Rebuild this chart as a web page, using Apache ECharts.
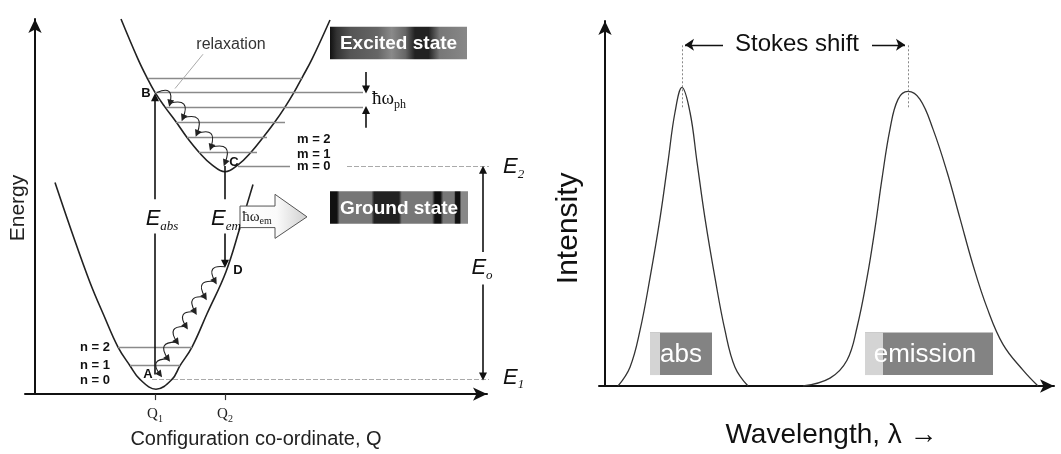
<!DOCTYPE html>
<html><head><meta charset="utf-8">
<script src="https://cdn.jsdelivr.net/npm/echarts@6/dist/echarts.min.js"></script>
<style>html,body{margin:0;padding:0;background:#fff}#c{width:1061px;height:454px}</style>
</head><body><div id="c"></div>
<script>
// ---------- LEFT PANEL: configuration-coordinate diagram (arbitrary units) ----------
const groundQ = [20,37,55,69,83,95,105,121,137,145,157,172,191,205,218];
const groundE = [216,165,114,80,48,29,15,5,15,29,48,82,125,170,214];
const excitedQ = [86,103,112,120,130,141,152,164,177,190,203,216,228,240,250,259,267,277,295];
const excitedE = [383,342,323,308,293,278,262,247,234,227,234,247,262,278,293,308,323,342,382];
// vibrational levels: [Q start, Q end, energy]
const excitedLevels = [[113,267,323],[120,328,308],[131,328,293],[141,250,278],[152,232,262],[164,222,247],[203,255,233]];
const groundLevels = [[83,157,48],[95,145,29]];
const levelExtensions = [[312,455,233],[117,455,15]];
// transitions with arrow heads [Q1,E1,Q2,E2]
const transitionArrows = [[120,199,120,303],[190,164,190,133],[448,145,448,229],[448,112,448,18],[331,329,331,311],[331,272,331,290]];
const transitionStems = [[120,20,120,164],[190,233,190,199]];
// relaxation hops
const excitedHopQ = [122,135,148,162,176,190];
const excitedHopE = [308,297,282,266,252,236];
const groundHopQ = [190,180,170,160,151,142,133,125];
const groundHopE = [130,115,99,84,69,53,36,20];
const relaxLeader = [[168,347,140,312]];
const qTicks = [120,190];
const qTickLabels = ['1','2'];
const leftText = [
  [-17,190,'Energy','ylabSmall'],
  [196,357,'relaxation','note'],
  [111,307,'B','pt'],[199,237,'C','pt'],[203,126,'D','pt'],[113,20,'A','pt'],
  [262,260,'m = 2','lvl'],[262,245,'m = 1','lvl'],[262,232,'m = 0','lvl'],
  [45,48,'n = 2','lvl'],[45,29,'n = 1','lvl'],[45,14,'n = 0','lvl'],
  [127,179,'{e|E}{s|abs}','E'],[191,179,'{e|E}{s|em}','E'],[447,129,'{e|E}{s|o}','E'],
  [468,232,'{e|E}{s|2}','Eleft'],[468,17,'{e|E}{s|1}','Eleft'],
  [337,301,'{h|ħω}{s|ph}','hbar'],
  [222,181,'{h|ħω}{s|em}','hbarSmall']
];
const stateBoxes = [[295,375,432,342],[295,207,433,174]];
const stateLabels = ['Excited state','Ground state'];
const emArrowShape = [[205,192],[240,192],[240,204],[272,181],[240,159],[240,170],[205,170]];

// ---------- RIGHT PANEL: spectra ----------
const absWl = [13,25,35,45,55,63,70,77,85,92,100,110,120,130,143];
const absI  = [0,19,56,109,169,226,276,301,276,226,169,109,56,19,0];
const emWl  = [198,225,242,252,262,270,277,285,293,303,315,328,342,355,368,382,398,418,433];
const emI   = [0,8,26,59,109,159,209,259,289,297,289,259,216,169,122,79,42,16,0];
const stokesMarks = [[77,281,77,345],[303,281,303,345]];
const stokesArrows = [[118,344,80,344],[267,344,300,344]];
const rightText = [[192,344,'Stokes shift','stokes'],[-36,159,'Intensity','ylab']];
const bandBoxes = [[45,54,107,11],[260,54,388,11]];
const bandStripeEnd = [55,278];
const bandLabels = ['abs','emission'];
const bandLabelQ = [76,320];

// ---------- helpers ----------
const pairs = (xs, ys) => xs.map((x, i) => [x, ys[i]]);
const levelData = rows => rows.map(r => ({coords: [[r[0], r[2]], [r[1], r[2]]]}));
const segData = rows => rows.map(r => ({coords: [[r[0], r[1]], [r[2], r[3]]]}));
const hopData = (qs, es, c) => qs.slice(1).map((q, i) => ({coords: [[qs[i], es[i]], [q, es[i + 1]]], lineStyle: {curveness: c}}));
function linesSeries(g, data, style, extra) {
  return Object.assign({type: 'lines', coordinateSystem: 'cartesian2d', xAxisIndex: g, yAxisIndex: g,
    data: data, symbol: 'none', silent: true, z: 3,
    lineStyle: Object.assign({opacity: 1, curveness: 0}, style)}, extra || {});
}
const SANS = '"Liberation Sans", Arial, sans-serif';
const SERIF = '"Liberation Serif", "Times New Roman", serif';
const richE = {
  e: {fontFamily: SANS, fontStyle: 'italic', fontSize: 22, lineHeight: 28, fill: '#111', color: '#111'},
  s: {fontFamily: SERIF, fontStyle: 'italic', fontSize: 13, lineHeight: 13, verticalAlign: 'bottom', fill: '#111', color: '#111'}
};
const richH = {
  h: {fontFamily: SERIF, fontSize: 19, lineHeight: 24, fill: '#111', color: '#111'},
  s: {fontFamily: SERIF, fontSize: 12, lineHeight: 12, verticalAlign: 'bottom', fill: '#111', color: '#111'}
};
const richHs = {
  h: {fontFamily: SERIF, fontSize: 15, lineHeight: 20, fill: '#222', color: '#222'},
  s: {fontFamily: SERIF, fontSize: 10, lineHeight: 10, verticalAlign: 'bottom', fill: '#222', color: '#222'}
};
const TEXT_STYLES = {
  note: {style: {font: '16px ' + SANS, fill: '#333', align: 'center', verticalAlign: 'middle'}},
  pt: {style: {font: 'bold 13px ' + SANS, fill: '#111', align: 'center', verticalAlign: 'middle'}},
  lvl: {style: {font: 'bold 13px ' + SANS, fill: '#111', align: 'left', verticalAlign: 'middle'}},
  E: {style: {align: 'center', verticalAlign: 'middle', rich: richE, fill: '#111'}},
  Eleft: {style: {align: 'left', verticalAlign: 'middle', rich: richE, fill: '#111'}},
  hbar: {style: {align: 'left', verticalAlign: 'middle', rich: richH, fill: '#111'}},
  hbarSmall: {style: {align: 'center', verticalAlign: 'middle', rich: richHs, fill: '#222'}},
  stokes: {style: {font: '24px ' + SANS, fill: '#111', align: 'center', verticalAlign: 'middle'}},
  ylab: {rotation: Math.PI / 2, style: {font: '30px ' + SANS, fill: '#111', align: 'center', verticalAlign: 'middle'}},
  ylabSmall: {rotation: Math.PI / 2, style: {font: '21px ' + SANS, fill: '#222', align: 'center', verticalAlign: 'middle'}}
};
function textSeries(g, rows) {
  return {type: 'custom', coordinateSystem: 'cartesian2d', xAxisIndex: g, yAxisIndex: g, silent: true, clip: false, z: 8,
    data: rows.map(r => [r[0], r[1]]),
    renderItem: (params, api) => {
      const r = rows[params.dataIndex];
      const p = api.coord([api.value(0), api.value(1)]);
      const st = TEXT_STYLES[r[3]];
      return {type: 'text', x: p[0], y: p[1], rotation: st.rotation || 0, style: Object.assign({text: r[2]}, st.style)};
    }};
}
const BOX_STOPS = [
  [[0,'#111'],[0.05,'#333'],[0.15,'#555'],[0.35,'#666'],[0.45,'#8a8a8a'],[0.55,'#666'],[0.62,'#222'],[0.72,'#222'],[0.8,'#777'],[1,'#888']],
  [[0,'#111'],[0.05,'#111'],[0.07,'#777'],[0.3,'#777'],[0.32,'#222'],[0.5,'#222'],[0.52,'#777'],[0.74,'#777'],[0.76,'#111'],[0.8,'#111'],[0.82,'#777'],[0.9,'#777'],[0.91,'#111'],[0.94,'#111'],[0.95,'#888'],[1,'#888']]
];
const grad = stops => new echarts.graphic.LinearGradient(0, 0, 1, 0, stops.map(s => ({offset: s[0], color: s[1]})));

const axisLineStyle = {color: '#111', width: 2};
const option = {
  animation: false,
  backgroundColor: '#fff',
  grid: [
    {left: 25, top: 19, width: 462, height: 383},
    {left: 599, top: 21, width: 455, height: 368}
  ],
  xAxis: [
    {gridIndex: 0, type: 'value', min: -10, max: 452,
      axisLine: {onZero: true, symbol: ['none', 'arrow'], symbolSize: [10, 14], lineStyle: axisLineStyle},
      axisTick: {show: true, customValues: qTicks, length: 6, lineStyle: {color: '#333', width: 1.2}},
      axisLabel: {show: true, customValues: qTicks, margin: 10,
        formatter: v => '{q|Q}{s|' + qTickLabels[qTicks.indexOf(v)] + '}',
        rich: {q: {fontFamily: SERIF, fontSize: 15, color: '#222', lineHeight: 20},
               s: {fontFamily: SERIF, fontSize: 10, color: '#222', lineHeight: 10, verticalAlign: 'bottom'}}},
      splitLine: {show: false},
      name: 'Configuration co-ordinate, Q', nameLocation: 'middle', nameGap: 30,
      nameTextStyle: {fontFamily: SANS, fontSize: 20, color: '#222'}},
    {gridIndex: 1, type: 'value', min: -6, max: 449,
      axisLine: {onZero: true, symbol: ['none', 'arrow'], symbolSize: [10, 14], lineStyle: axisLineStyle},
      axisTick: {show: false}, axisLabel: {show: false}, splitLine: {show: false},
      name: 'Wavelength, λ →', nameLocation: 'middle', nameGap: 35,
      nameTextStyle: {fontFamily: SANS, fontSize: 28, color: '#111', padding: [0, 0, 0, 10]}}
  ],
  yAxis: [
    {gridIndex: 0, type: 'value', min: 0, max: 383,
      axisLine: {onZero: true, symbol: ['none', 'arrow'], symbolSize: [10, 14], lineStyle: axisLineStyle},
      axisTick: {show: false}, axisLabel: {show: false}, splitLine: {show: false}},
    {gridIndex: 1, type: 'value', min: 0, max: 368,
      axisLine: {onZero: true, symbol: ['none', 'arrow'], symbolSize: [10, 14], lineStyle: axisLineStyle},
      axisTick: {show: false}, axisLabel: {show: false}, splitLine: {show: false}}
  ],
  series: [
    // potential curves
    {type: 'line', xAxisIndex: 0, yAxisIndex: 0, data: pairs(groundQ, groundE), smooth: 0.4, showSymbol: false, silent: true, z: 2,
      lineStyle: {color: '#222', width: 1.6}},
    {type: 'line', xAxisIndex: 0, yAxisIndex: 0, data: pairs(excitedQ, excitedE), smooth: 0.4, showSymbol: false, silent: true, z: 2,
      lineStyle: {color: '#222', width: 1.6}},
    // vibrational levels
    linesSeries(0, levelData(excitedLevels.concat(groundLevels)), {color: '#8a8a8a', width: 1.4}),
    linesSeries(0, levelData(levelExtensions), {color: '#aaa', width: 1.2, type: [5, 2]}),
    linesSeries(0, segData(relaxLeader), {color: '#aaa', width: 1}),
    // transitions
    linesSeries(0, segData(transitionStems), {color: '#111', width: 1.6}),
    linesSeries(0, segData(transitionArrows), {color: '#111', width: 1.6}, {symbol: ['none', 'triangle'], symbolSize: 8}),
    // relaxation hops
    linesSeries(0, hopData(excitedHopQ, excitedHopE, 1.0), {color: '#222', width: 1.1}, {symbol: ['none', 'triangle'], symbolSize: 7}),
    linesSeries(0, hopData(groundHopQ, groundHopE, -1.0), {color: '#222', width: 1.1}, {symbol: ['none', 'triangle'], symbolSize: 7}),
    // photon block arrow
    {type: 'custom', coordinateSystem: 'cartesian2d', xAxisIndex: 0, yAxisIndex: 0, silent: true, clip: false, z: 6,
      data: [emArrowShape[0]],
      renderItem: (params, api) => ({type: 'polygon', shape: {points: emArrowShape.map(p => api.coord(p))},
        style: {fill: new echarts.graphic.LinearGradient(0, 0, 1, 0, [{offset: 0, color: '#fff'}, {offset: 0.55, color: '#fafafa'}, {offset: 1, color: '#cfcfcf'}]),
          stroke: '#555', lineWidth: 1}})},
    // state boxes
    {type: 'custom', coordinateSystem: 'cartesian2d', xAxisIndex: 0, yAxisIndex: 0, silent: true, clip: false, z: 6,
      data: stateBoxes.map(b => [b[0], b[1], b[2], b[3]]),
      renderItem: (params, api) => {
        const p1 = api.coord([api.value(0), api.value(1)]);
        const p2 = api.coord([api.value(2), api.value(3)]);
        return {type: 'group', children: [
          {type: 'rect', shape: {x: p1[0], y: p1[1], width: p2[0] - p1[0], height: p2[1] - p1[1]}, style: {fill: grad(BOX_STOPS[params.dataIndex])}},
          {type: 'text', x: (p1[0] + p2[0]) / 2, y: (p1[1] + p2[1]) / 2 + 1,
            style: {text: stateLabels[params.dataIndex], fill: '#fff', font: 'bold 19px ' + SANS, align: 'center', verticalAlign: 'middle'}}
        ]};
      }},
    textSeries(0, leftText),

    // spectra
    {type: 'line', xAxisIndex: 1, yAxisIndex: 1, data: pairs(absWl, absI), smooth: 0.4, showSymbol: false, silent: true, z: 2,
      lineStyle: {color: '#333', width: 1.3}},
    {type: 'line', xAxisIndex: 1, yAxisIndex: 1, data: pairs(emWl, emI), smooth: 0.4, showSymbol: false, silent: true, z: 2,
      lineStyle: {color: '#333', width: 1.3}},
    linesSeries(1, segData(stokesMarks), {color: '#888', width: 1, type: [2, 2]}),
    linesSeries(1, segData(stokesArrows), {color: '#111', width: 1.4}, {symbol: ['none', 'arrow'], symbolSize: 9}),
    {type: 'custom', coordinateSystem: 'cartesian2d', xAxisIndex: 1, yAxisIndex: 1, silent: true, clip: false, z: 6,
      data: bandBoxes.map(b => [b[0], b[1], b[2], b[3]]),
      renderItem: (params, api) => {
        const i = params.dataIndex;
        const p1 = api.coord([api.value(0), api.value(1)]);
        const p2 = api.coord([api.value(2), api.value(3)]);
        const ps = api.coord([bandStripeEnd[i], api.value(3)]);
        const pt = api.coord([bandLabelQ[i], api.value(3)]);
        return {type: 'group', children: [
          {type: 'rect', shape: {x: p1[0], y: p1[1], width: p2[0] - p1[0], height: p2[1] - p1[1]}, style: {fill: '#838383'}},
          {type: 'rect', shape: {x: p1[0], y: p1[1], width: ps[0] - p1[0], height: p2[1] - p1[1]}, style: {fill: '#d4d4d4'}},
          {type: 'text', x: pt[0], y: (p1[1] + p2[1]) / 2 + 1,
            style: {text: bandLabels[i], fill: '#fff', font: '26px ' + SANS, align: 'center', verticalAlign: 'middle'}}
        ]};
      }},
    textSeries(1, rightText)
  ]
};
const chart = echarts.init(document.getElementById('c'));
chart.setOption(option);
</script></body></html>
